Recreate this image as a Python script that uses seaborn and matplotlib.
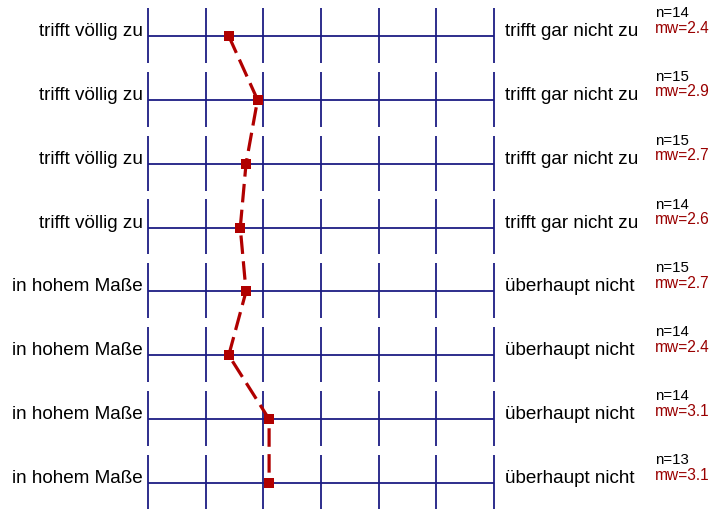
import matplotlib
matplotlib.use("Agg")
import matplotlib.pyplot as plt
import seaborn as sns
import pandas as pd
import numpy as np

left_labels = ["trifft völlig zu"] * 4 + ["in hohem Maße"] * 4
right_labels = ["trifft gar nicht zu"] * 4 + ["überhaupt nicht"] * 4
n_values = [14, 15, 15, 14, 15, 14, 14, 13]
mean_values = [2.4, 2.9, 2.7, 2.6, 2.7, 2.4, 3.1, 3.1]
scale_ticks = [1, 2, 3, 4, 5, 6, 7]

sns.set_theme(style="white")
plt.rcParams["font.family"] = ["Liberation Sans", "DejaVu Sans"]

W, H = 726, 510
fig = plt.figure(figsize=(W / 100, H / 100), dpi=100)
x0, x1 = 148, 494
ax = fig.add_axes([x0 / W, 0, (x1 - x0) / W, 1])
row_top, row_step = 37, 63.86
ax.set_xlim(scale_ticks[0], scale_ticks[-1])
ax.set_ylim((H - row_top) / row_step, -row_top / row_step)
ax.axis("off")

navy = "#1c1c84"
red = "#b00000"
rows = np.arange(len(mean_values))
for r in rows:
    ax.hlines(r, scale_ticks[0], scale_ticks[-1], color=navy, lw=1.3, clip_on=False)
    ax.vlines(scale_ticks, r - 0.44, r + 0.42, color=navy, lw=1.3, clip_on=False)

df = pd.DataFrame({"mean": mean_values, "row": rows})
sns.lineplot(data=df, x="mean", y="row", sort=False, estimator=None, ax=ax,
             color=red, lw=2.3, marker="s", markersize=7.5, markeredgewidth=0,
             dashes=False, linestyle=(0, (5.8, 2.3)), clip_on=False, zorder=5)

px = (scale_ticks[-1] - scale_ticks[0]) / (x1 - x0)  # data units per pixel
py = 1 / row_step
for r in rows:
    ax.text(1 - 5 * px, r - 1 * py, left_labels[r], ha="right", va="baseline",
            fontsize=13.6, color="black")
    ax.text(7 + 11 * px, r - 1 * py, right_labels[r], ha="left", va="baseline",
            fontsize=13.6, color="black")
    ax.text(7 + (655 - x1) * px, r - 20 * py, f"n={n_values[r]}", ha="left",
            va="baseline", fontsize=10.8, color="black")
    ax.text(7 + (655 - x1) * px, r - 4.5 * py, f"mw={mean_values[r]}", ha="left",
            va="baseline", fontsize=11.2, color="#990000")

fig.savefig("out.png", dpi=100)
